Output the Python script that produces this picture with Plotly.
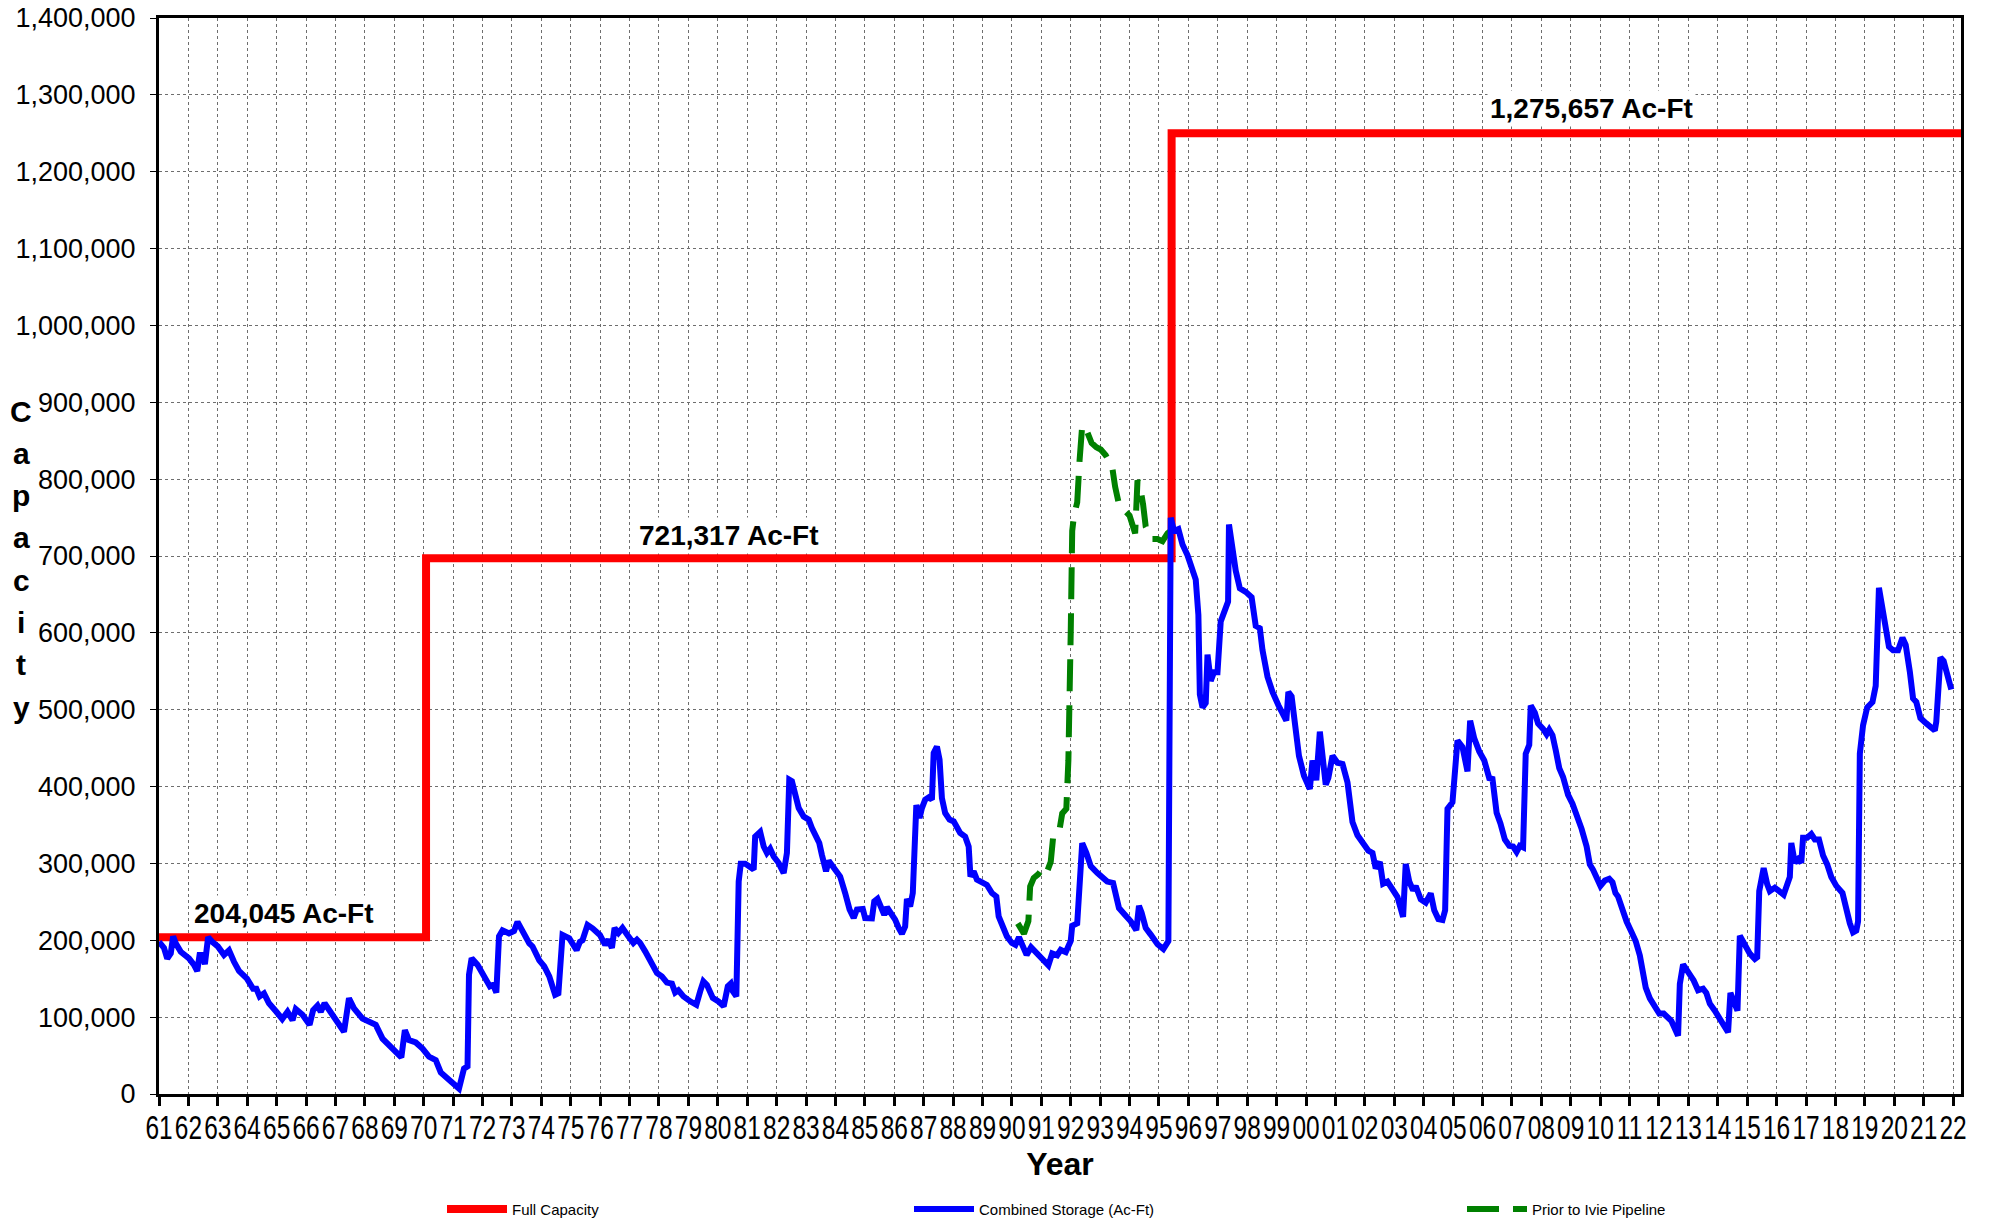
import plotly.graph_objects as go

# ---------------- data ----------------
years = list(range(1961, 2023))
tick_labels = [f"{y % 100:02d}" for y in years]
y_ticks = list(range(0, 1400001, 100000))

# Full capacity (step line)
capacity_x = [1961.0, 1970.08, 1995.43, 2022.4]
capacity_y = [204045, 697000, 1250000, 1250000]
capacity_labels = ["204,045 Ac-Ft", "721,317 Ac-Ft", "1,275,657 Ac-Ft"]

# Combined storage (thousand acre-feet)
storage_years = [
    1961.00, 1961.17, 1961.28, 1961.40, 1961.48, 1961.57, 1961.74, 1961.91, 1962.02, 1962.19,
    1962.30, 1962.38, 1962.47, 1962.56, 1962.67, 1962.81, 1963.00, 1963.21, 1963.38, 1963.55,
    1963.72, 1963.99, 1964.20, 1964.31, 1964.42, 1964.57, 1964.74, 1964.99, 1965.19, 1965.37,
    1965.54, 1965.65, 1965.88, 1966.12, 1966.24, 1966.39, 1966.50, 1966.63, 1966.84, 1967.07,
    1967.29, 1967.46, 1967.63, 1967.92, 1968.14, 1968.37, 1968.60, 1968.77, 1969.03, 1969.24,
    1969.36, 1969.50, 1969.73, 1969.96, 1970.18, 1970.41, 1970.58, 1970.81, 1971.03, 1971.20,
    1971.37, 1971.49, 1971.54, 1971.63, 1971.83, 1972.05, 1972.25, 1972.36, 1972.47, 1972.56,
    1972.68, 1972.90, 1973.07, 1973.19, 1973.36, 1973.59, 1973.70, 1973.93, 1974.10, 1974.27,
    1974.47, 1974.58, 1974.72, 1974.95, 1975.20, 1975.31, 1975.40, 1975.57, 1975.74, 1975.99,
    1976.17, 1976.28, 1976.40, 1976.49, 1976.62, 1976.76, 1976.96, 1977.13, 1977.25, 1977.36,
    1977.53, 1977.70, 1977.93, 1978.10, 1978.27, 1978.44, 1978.55, 1978.66, 1978.83, 1979.06,
    1979.27, 1979.40, 1979.51, 1979.63, 1979.83, 1980.02, 1980.20, 1980.34, 1980.44, 1980.51,
    1980.63, 1980.71, 1980.78, 1980.93, 1981.10, 1981.22, 1981.27, 1981.44, 1981.56, 1981.67,
    1981.78, 1981.90, 1982.07, 1982.24, 1982.35, 1982.43, 1982.52, 1982.63, 1982.75, 1982.92,
    1983.09, 1983.20, 1983.31, 1983.45, 1983.54, 1983.68, 1983.77, 1983.94, 1984.16, 1984.33,
    1984.48, 1984.62, 1984.73, 1984.93, 1985.01, 1985.24, 1985.32, 1985.43, 1985.55, 1985.66,
    1985.75, 1985.90, 1986.03, 1986.15, 1986.26, 1986.37, 1986.43, 1986.54, 1986.63, 1986.75,
    1986.86, 1986.94, 1987.05, 1987.17, 1987.28, 1987.34, 1987.45, 1987.54, 1987.62, 1987.73,
    1987.88, 1988.02, 1988.13, 1988.24, 1988.41, 1988.53, 1988.59, 1988.70, 1988.81, 1988.98,
    1989.15, 1989.32, 1989.47, 1989.55, 1989.66, 1989.83, 1990.00, 1990.12, 1990.24, 1990.37,
    1990.50, 1990.65, 1990.85, 1991.02, 1991.24, 1991.37, 1991.54, 1991.66, 1991.83, 1992.00,
    1992.05, 1992.22, 1992.39, 1992.53, 1992.68, 1992.90, 1993.07, 1993.24, 1993.44, 1993.64,
    1993.81, 1994.04, 1994.23, 1994.32, 1994.41, 1994.55, 1994.72, 1994.95, 1995.15, 1995.32,
    1995.40, 1995.51, 1995.66, 1995.80, 1995.97, 1996.11, 1996.25, 1996.34, 1996.39, 1996.48,
    1996.59, 1996.65, 1996.76, 1996.87, 1996.99, 1997.10, 1997.21, 1997.35, 1997.38, 1997.50,
    1997.61, 1997.75, 1997.95, 1998.15, 1998.29, 1998.43, 1998.52, 1998.69, 1998.86, 1999.06,
    1999.20, 1999.33, 1999.40, 1999.51, 1999.63, 1999.76, 1999.93, 2000.13, 2000.22, 2000.35,
    2000.47, 2000.56, 2000.67, 2000.76, 2000.90, 2001.07, 2001.24, 2001.41, 2001.58, 2001.75,
    2001.92, 2002.12, 2002.26, 2002.37, 2002.51, 2002.62, 2002.77, 2002.94, 2003.11, 2003.30,
    2003.39, 2003.51, 2003.64, 2003.73, 2003.90, 2004.07, 2004.24, 2004.36, 2004.50, 2004.64,
    2004.73, 2004.81, 2004.98, 2005.15, 2005.32, 2005.49, 2005.58, 2005.72, 2005.89, 2006.06,
    2006.23, 2006.34, 2006.48, 2006.61, 2006.76, 2006.91, 2007.04, 2007.16, 2007.27, 2007.38,
    2007.47, 2007.59, 2007.64, 2007.78, 2007.89, 2008.06, 2008.18, 2008.27, 2008.38, 2008.49,
    2008.61, 2008.74, 2008.91, 2009.06, 2009.20, 2009.37, 2009.54, 2009.65, 2009.76, 2009.88,
    2010.01, 2010.16, 2010.31, 2010.42, 2010.52, 2010.61, 2010.73, 2010.90, 2011.07, 2011.21,
    2011.35, 2011.55, 2011.69, 2011.86, 2012.01, 2012.16, 2012.29, 2012.42, 2012.65, 2012.71,
    2012.82, 2012.99, 2013.18, 2013.33, 2013.50, 2013.61, 2013.73, 2013.90, 2014.07, 2014.24,
    2014.35, 2014.43, 2014.54, 2014.67, 2014.75, 2014.92, 2015.09, 2015.26, 2015.34, 2015.41,
    2015.56, 2015.68, 2015.77, 2015.94, 2016.11, 2016.24, 2016.45, 2016.50, 2016.62, 2016.73,
    2016.84, 2016.90, 2017.04, 2017.18, 2017.30, 2017.44, 2017.58, 2017.72, 2017.86, 2018.03,
    2018.24, 2018.35, 2018.49, 2018.60, 2018.71, 2018.77, 2018.83, 2018.94, 2019.08, 2019.26,
    2019.37, 2019.48, 2019.62, 2019.82, 2019.96, 2020.13, 2020.28, 2020.39, 2020.53, 2020.64,
    2020.75, 2020.89, 2021.09, 2021.26, 2021.38, 2021.43, 2021.57, 2021.68, 2021.80, 2021.94,
]
storage_kaf = [
    198, 190, 176, 183, 205, 196, 185, 179.6, 176.5, 168,
    160, 181, 181, 169, 204, 198, 192, 181, 187, 172,
    160, 150, 137, 137, 127, 131, 118, 107, 97.6, 107,
    96, 110.6, 103, 90, 109, 115, 107, 118, 106, 94,
    81, 124.5, 111.5, 98, 94, 90, 72, 66, 55, 47.7,
    83, 70, 67, 59, 48.6, 44, 28, 20, 12, 7,
    33, 36, 155, 176.5, 168, 155, 140, 142, 132, 205,
    213, 209, 212, 224, 211, 196, 192, 174, 166, 153,
    129, 131, 207, 202.5, 187, 198, 200, 220, 215.5, 207,
    194, 200.8, 190, 216, 209.5, 216, 205, 196.5, 200.8, 196.5,
    185.6, 174.8, 157.4, 153, 145, 143.6, 132, 135, 127, 120.6,
    116, 133.6, 146.6, 142, 125, 120.6, 114, 140, 143.6, 133.6,
    127, 276.7, 299.7, 299.7, 296, 292, 335, 341, 322, 313.6,
    319, 309, 300.5, 287.5, 313.6, 409, 407, 389, 372, 361,
    357, 346, 337, 326.6, 311, 289.7, 303.6, 294, 283, 261.5,
    240, 229, 240, 240.7, 229, 228.6, 250.7, 254, 242, 233,
    243, 235.5, 226.8, 216, 208.6, 218, 253.7, 244, 261.5, 376,
    359, 372, 383, 386, 383, 443.6, 452, 435, 385, 365.6,
    357, 354.7, 348, 339.6, 335, 322, 283, 289.7, 279, 274.5,
    272, 261.5, 257, 231, 221.6, 205, 196.5, 194, 204, 192,
    181, 191, 183, 179, 167.4, 183, 180.5, 187.5, 184.6, 199,
    219, 222, 326.3, 313.7, 296.4, 287.8, 282, 276.4, 274.6, 242,
    234.5, 224.7, 213, 244.8, 236, 216, 207.4, 194.9, 188.6, 199,
    749.7, 732.5, 735, 715, 701, 686.6, 669.4, 623.5, 520, 503,
    508.7, 571.8, 537.4, 548.9, 548.9, 614.9, 629, 640.7, 741, 709.5,
    680.8, 657.9, 653.3, 646.4, 609, 606, 577.6, 543, 523, 505.8,
    494.4, 485.8, 523, 517.3, 480, 440, 414, 396.8, 434, 408.3,
    471.4, 445.6, 402.6, 411.2, 440, 431, 429.5, 405.5, 353.8, 336.6,
    328, 316.5, 313.7, 293.6, 302, 273.5, 276.4, 265, 256.3, 230.5,
    299.3, 276.4, 265, 270.6, 253.4, 249, 261, 239, 227.6, 226.4,
    239, 371, 379.6, 460, 451.4, 419.8, 485.8, 462.8, 445.6, 434,
    411, 410, 366, 352, 331.2, 322.9, 322, 315, 322.9, 321,
    442.7, 454.3, 505.4, 496, 482, 475, 468, 474, 466.8, 447.3,
    424, 412.5, 389.3, 377.7, 363.7, 345, 322, 298.7, 291.7, 282.4,
    270.8, 277.8, 280, 275.5, 261.5, 256.9, 240.6, 224.4, 210.4, 198.8,
    180.2, 138.4, 124.5, 112.9, 104.6, 104.6, 99, 95.3, 75.8, 143,
    168.6, 159.3, 147.8, 135, 137, 131.5, 117.6, 108.3, 96.7, 86,
    80.4, 131.5, 122.2, 108.3, 205.8, 191.9, 182.6, 175.6, 178, 263.9,
    294, 273.2, 263.9, 268.5, 263.9, 259.2, 282.4, 326.6, 301, 305.6,
    301, 333.5, 333.5, 338.2, 331.2, 331.2, 310.3, 298.7, 282.4, 270.8,
    261.5, 243, 222.1, 210.4, 212.8, 224.4, 442.7, 479.8, 503, 510,
    531, 658.7, 628.5, 582, 577.4, 577.4, 593.6, 584.3, 549.5, 514.7,
    510, 489.1, 482.2, 475.2, 472.9, 484.5, 568, 563.4, 542.5, 526.3,
]

# Prior to Ivie Pipeline (thousand acre-feet)
ivie_years = [
    1990.20, 1990.41, 1990.56, 1990.62, 1990.74, 1990.90, 1991.05, 1991.18, 1991.32, 1991.40,
    1991.60, 1991.71, 1991.85, 1991.92, 1992.00, 1992.05, 1992.11, 1992.22, 1992.30, 1992.39,
    1992.53, 1992.71, 1992.87, 1993.02, 1993.19, 1993.41, 1993.51, 1993.64, 1994.00, 1994.19,
    1994.27, 1994.36, 1994.46, 1994.55, 1994.75, 1994.95, 1995.12, 1995.29, 1995.40,
]
ivie_kaf = [
    222, 208.5, 225, 270, 281, 286, 293.8, 287.8, 302, 333.7,
    339.5, 365, 371, 434, 600.5, 732.5, 752.6, 769.8, 824, 870,
    864.4, 847, 841.5, 838.6, 831, 815.7, 790, 767, 752.6, 729.6,
    798.5, 790, 767, 738.2, 722.2, 722.2, 719.3, 729.6, 732.5,
]

# ---------------- figure ----------------
ARIAL = "Liberation Sans, Arial, sans-serif"

fig = go.Figure()

fig.add_trace(go.Scatter(
    x=capacity_x, y=capacity_y, mode="lines", name="Full Capacity",
    line=dict(color="#FF0000", width=8, shape="hv"), legend="legend",
))
fig.add_trace(go.Scatter(
    x=ivie_years, y=[v * 1000 for v in ivie_kaf], mode="lines",
    name="Prior to Ivie Pipeline",
    line=dict(color="#008000", width=6, dash="32px,14px"), legend="legend3",
))
fig.add_trace(go.Scatter(
    x=storage_years, y=[v * 1000 for v in storage_kaf], mode="lines",
    name="Combined Storage (Ac-Ft)",
    line=dict(color="#0000FF", width=6), legend="legend2",
))

annotations = []
label_pos = [(1965.25, 235500), (1980.38, 726700), (2009.69, 1282900)]
for text, (ax, ay) in zip(capacity_labels, label_pos):
    annotations.append(dict(
        x=ax, y=ay, xref="x", yref="y", text=f"<b>{text}</b>", showarrow=False,
        font=dict(family=ARIAL, size=28, color="black"),
        bgcolor="white", borderpad=2,
    ))

# vertical, stacked y-axis title
for i, ch in enumerate("Capacity"):
    ypx = 411 + i * 42.3
    annotations.append(dict(
        x=(21 - 159) / 1802, y=(1094 - ypx) / 1076, xref="paper", yref="paper",
        text=f"<b>{ch}</b>", showarrow=False, xanchor="center", yanchor="middle",
        font=dict(family=ARIAL, size=30, color="black"),
    ))

legend_common = dict(
    orientation="h", yanchor="middle", xanchor="left", y=-0.107,
    font=dict(family=ARIAL, size=15, color="black"),
    bgcolor="rgba(0,0,0,0)", borderwidth=0, itemwidth=60,
)

fig.update_layout(
    width=1990, height=1221,
    margin=dict(l=159, r=29, t=18, b=127, autoexpand=False),
    paper_bgcolor="white", plot_bgcolor="white",
    showlegend=True,
    legend=dict(x=(442 - 159) / 1802, **legend_common),
    legend2=dict(x=(909 - 159) / 1802, **legend_common),
    legend3=dict(x=(1462 - 159) / 1802, **legend_common),
    annotations=annotations,
    xaxis=dict(
        range=[1961, 2022.27], automargin=False,
        tickmode="array", tickvals=years, ticktext=tick_labels, tickangle=0,
        tickfont=dict(family=ARIAL, size=34, color="black"),
        ticks="outside", ticklen=9, tickwidth=3, tickcolor="black",
        ticklabelstandoff=-8,
        showline=True, linewidth=3, linecolor="black", mirror=True,
        showgrid=True, gridcolor="#6e6e6e", gridwidth=1, griddash="dot",
        zeroline=False,
        title=dict(text="<b>Year</b>", font=dict(family=ARIAL, size=32, color="black"), standoff=0),
    ),
    yaxis=dict(
        range=[0, 1400000], automargin=False,
        tickmode="array", tickvals=y_ticks, tickformat=",d",
        tickfont=dict(family=ARIAL, size=27, color="black"),
        ticks="outside", ticklen=6, tickwidth=1, tickcolor="black",
        ticklabelstandoff=9,
        showline=True, linewidth=3, linecolor="black", mirror=True,
        showgrid=True, gridcolor="#6e6e6e", gridwidth=1, griddash="dot",
        zeroline=False,
    ),
)

# Narrow (condensed) look for the year tick labels, as in the reference
post = """
document.body.style.margin='0';
document.body.style.overflow='hidden';
var gd = document.getElementById('{plot_id}');
gd.querySelectorAll('.xtick text').forEach(function(t){
  var tr = t.getAttribute('transform') || '';
  if (tr.indexOf('scale') < 0) { t.setAttribute('transform', tr + ' scale(0.72,1)'); }
});
"""

fig.write_html("out.html", config={"displayModeBar": False}, post_script=post)
